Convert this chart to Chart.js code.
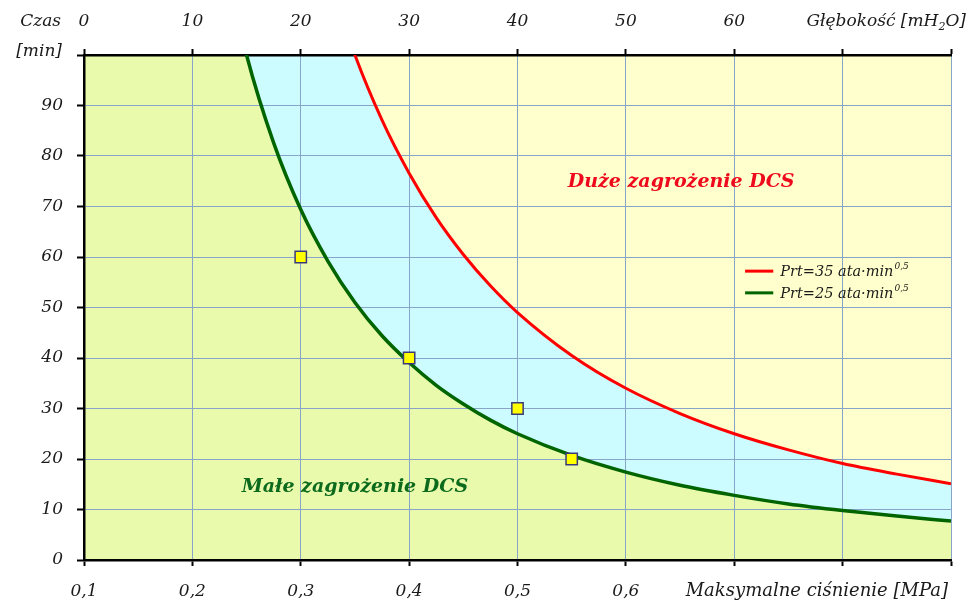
<!DOCTYPE html>
<html>
<head>
<meta charset="utf-8">
<script src="https://cdn.jsdelivr.net/npm/chart.js@4/dist/chart.umd.min.js"></script>
<style>
html,body{margin:0;padding:0;background:#fff;}
#wrap{width:976px;height:603px;}
</style>
</head>
<body>
<div id="wrap"><canvas id="c" width="976" height="603"></canvas></div>
<script>
// ---- data ----
const xTicks = [0.1,0.2,0.3,0.4,0.5,0.6,0.7,0.8,0.9];
const xLabelled = [0.1,0.2,0.3,0.4,0.5,0.6];
const depthTicks = [0,10,20,30,40,50,60,70,80];
const depthLabelled = [0,10,20,30,40,50,60];
const yTicks = [0,10,20,30,40,50,60,70,80,90,100];

// Prt = 25 curve (extends above the top edge, clipped)
const greenX = [0.1,0.15,0.2,0.225,0.25,0.275,0.3,0.325,0.35,0.375,0.4,0.425,0.45,0.475,0.5,0.55,0.6,0.65,0.7,0.75,0.8,0.85,0.9];
const greenY = [625,277.8,156.3,123.5,100,82.6,69.4,59.2,51.0,44.4,39.1,34.6,30.9,27.7,25.0,20.7,17.4,14.8,12.8,11.1,9.8,8.7,7.7];

// Prt = 35 curve
const redX = [0.1,0.2,0.25,0.3,0.325,0.35,0.375,0.4,0.425,0.45,0.475,0.5,0.55,0.6,0.65,0.7,0.75,0.8,0.85,0.9];
const redY = [1225,306,196,136.1,116.0,100,87.1,76.6,67.8,60.5,54.3,49.0,40.5,34.0,29.0,25.0,21.8,19.1,17.0,15.1];

// measured dives (squares)
const diveX = [0.3,0.4,0.5,0.55];
const diveY = [60,40,30,20];

const legendLabels = ['Prt=35 ata\u00B7min', 'Prt=25 ata\u00B7min'];
const legendSup = '0,5';

const FONT = 'DejaVu Serif';
const GRID = '#88a4c8';
const TXT = '#1a1a1a';

const pts = (xs, ys) => xs.map((x, i) => ({x: x, y: ys[i]}));

const textPlugin = {
  id: 'texts',
  afterDraw(chart) {
    const ctx = chart.ctx;
    const xs = chart.scales.x, ys = chart.scales.y;
    ctx.save();
    ctx.fillStyle = TXT;
    ctx.font = 'italic 17px "' + FONT + '"';
    ctx.textBaseline = 'middle';
    ctx.textAlign = 'right';
    ctx.fillText('Czas', 61, 22);
    ctx.fillText('[min]', 62, 52);
    ctx.font = 'italic 18px "' + FONT + '"';
    ctx.fillText('Maksymalne ciśnienie [MPa]', 948, 591);
    // depth title with subscript
    const p1 = 'Głębokość [mH', sub = '2', p2 = 'O]';
    ctx.textAlign = 'left';
    ctx.font = 'italic 17px "' + FONT + '"';
    const w1 = ctx.measureText(p1).width, w3 = ctx.measureText(p2).width;
    ctx.font = 'italic 11px "' + FONT + '"';
    const w2 = ctx.measureText(sub).width;
    let sx = 966 - (w1 + w2 + w3);
    ctx.font = 'italic 17px "' + FONT + '"';
    ctx.fillText(p1, sx, 22);
    ctx.font = 'italic 11px "' + FONT + '"';
    ctx.fillText(sub, sx + w1, 27);
    ctx.font = 'italic 17px "' + FONT + '"';
    ctx.fillText(p2, sx + w1 + w2, 22);

    // region labels
    ctx.textAlign = 'center';
    ctx.font = 'italic bold 19px "' + FONT + '"';
    ctx.fillStyle = '#ee0a1c';
    ctx.fillText('Duże zagrożenie DCS', xs.getPixelForValue(0.651), ys.getPixelForValue(74.9));
    ctx.fillStyle = '#0c6a1c';
    ctx.fillText('Małe zagrożenie DCS', xs.getPixelForValue(0.35), ys.getPixelForValue(14.5));

    // legend
    const lcol = ['#ff0000', '#006400'];
    const ly = [ys.getPixelForValue(57.2), ys.getPixelForValue(52.9)];
    const lx0 = xs.getPixelForValue(0.710), lx1 = xs.getPixelForValue(0.736);
    for (let i = 0; i < 2; i++) {
      ctx.strokeStyle = lcol[i];
      ctx.lineWidth = 3;
      ctx.beginPath();
      ctx.moveTo(lx0, ly[i]);
      ctx.lineTo(lx1, ly[i]);
      ctx.stroke();
      ctx.fillStyle = TXT;
      ctx.textAlign = 'left';
      ctx.font = 'italic 14.5px "' + FONT + '"';
      const tx = lx1 + 7;
      ctx.fillText(legendLabels[i], tx, ly[i] + 1);
      const tw = ctx.measureText(legendLabels[i]).width;
      ctx.font = 'italic 9px "' + FONT + '"';
      ctx.fillText(legendSup, tx + tw + 1, ly[i] - 4);
    }
    ctx.restore();
  }
};

new Chart(document.getElementById('c'), {
  type: 'scatter',
  data: {
    datasets: [
      {
        label: 'dives',
        data: pts(diveX, diveY),
        showLine: false,
        pointStyle: 'rect',
        pointRadius: 8,
        pointHoverRadius: 8,
        backgroundColor: '#ffff00',
        borderColor: '#3a3a7a',
        borderWidth: 1.5
      },
      {
        label: 'Prt=25',
        data: pts(greenX, greenY),
        showLine: true,
        borderColor: '#006400',
        borderWidth: 3.5,
        pointRadius: 0,
        cubicInterpolationMode: 'monotone',
        capBezierPoints: false,
        fill: 'origin',
        backgroundColor: '#eafaac'
      },
      {
        label: 'Prt=35',
        data: pts(redX, redY),
        showLine: true,
        borderColor: '#ff0000',
        borderWidth: 3,
        pointRadius: 0,
        cubicInterpolationMode: 'monotone',
        capBezierPoints: false,
        fill: 'origin',
        backgroundColor: '#ccfcff'
      },
      {
        label: 'bg',
        data: [{x: 0.1, y: 100}, {x: 0.9, y: 100}],
        showLine: true,
        borderWidth: 0,
        borderColor: 'rgba(0,0,0,0)',
        pointRadius: 0,
        fill: 'origin',
        backgroundColor: '#ffffcd'
      }
    ]
  },
  options: {
    responsive: false,
    animation: false,
    events: [],
    layout: {padding: {left: 0, right: 25, top: 0, bottom: 0}},
    plugins: {
      legend: {display: false},
      tooltip: {enabled: false},
      filler: {drawTime: 'beforeDraw'}
    },
    scales: {
      x: {
        type: 'linear',
        position: 'bottom',
        min: 0.1, max: 0.9,
        afterBuildTicks: s => { s.ticks = xTicks.map(v => ({value: v})); },
        afterFit: s => { s.height = 43; },
        ticks: {
          callback: v => xLabelled.some(t => Math.abs(t - v) < 1e-9) ? v.toFixed(1).replace('.', ',') : '',
          font: {family: FONT, style: 'italic', size: 17},
          color: TXT,
          padding: 15,
          maxRotation: 0
        },
        grid: {color: GRID, lineWidth: 1, tickColor: '#000', tickLength: 6, tickWidth: 2},
        border: {display: true, color: '#000', width: 2.5}
      },
      x2: {
        type: 'linear',
        position: 'top',
        min: 0, max: 80,
        afterBuildTicks: s => { s.ticks = depthTicks.map(v => ({value: v})); },
        afterFit: s => { s.height = 55; },
        ticks: {
          callback: v => depthLabelled.includes(v) ? String(v) : '',
          font: {family: FONT, style: 'italic', size: 17},
          color: TXT,
          padding: 17,
          maxRotation: 0
        },
        grid: {drawOnChartArea: false, tickColor: '#000', tickLength: 6, tickWidth: 2},
        border: {display: true, color: '#000', width: 2.5}
      },
      y: {
        type: 'linear',
        position: 'left',
        min: 0, max: 100,
        afterBuildTicks: s => { s.ticks = yTicks.map(v => ({value: v})); },
        afterFit: s => { s.width = 84; },
        ticks: {
          callback: v => v === 100 ? '' : String(v),
          font: {family: FONT, style: 'italic', size: 17},
          color: TXT,
          padding: 14
        },
        grid: {color: GRID, lineWidth: 1, tickColor: '#000', tickLength: 7, tickWidth: 2},
        border: {display: true, color: '#000', width: 2.5}
      }
    }
  },
  plugins: [textPlugin]
});
</script>
</body>
</html>
